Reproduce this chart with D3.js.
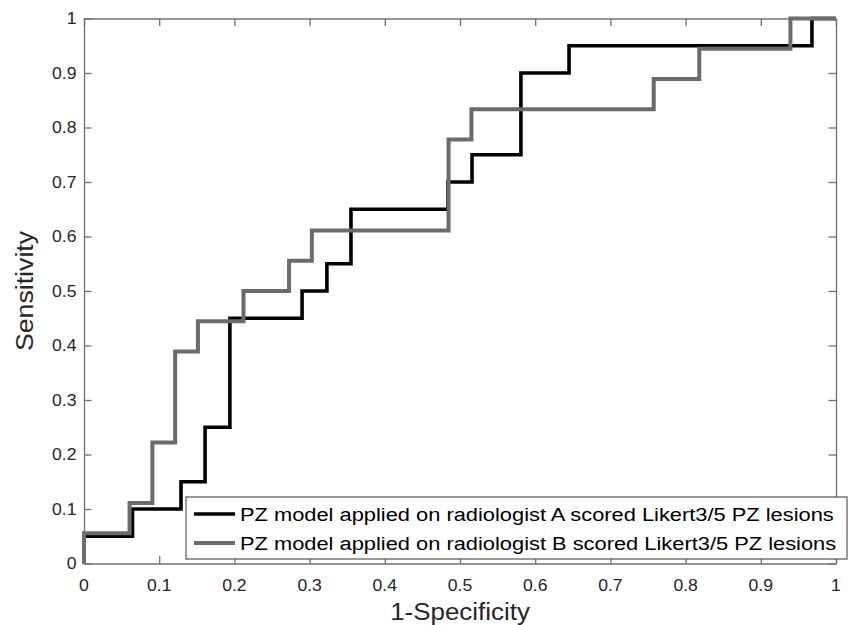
<!DOCTYPE html>
<html>
<head>
<meta charset="utf-8">
<script src="https://cdn.jsdelivr.net/npm/d3@7"></script>
<style>
	body { margin: 0; background: #fff; }
	text { font-family: 'Liberation Sans', Arial, Helvetica, sans-serif; fill: #262626; }
</style>
</head>
<body>
<div id="chart"></div>
<script>
// ROC points (1-specificity, sensitivity)
var fprA = [0, 0, 0.0645, 0.129, 0.161, 0.194, 0.290, 0.323, 0.355, 0.484, 0.516, 0.581, 0.645, 0.968, 1]
var tprA = [0, 0.05, 0.10, 0.15, 0.25, 0.45, 0.50, 0.55, 0.65, 0.70, 0.75, 0.90, 0.95, 1.0, 1.0]
var fprB = [0, 0, 0.0606, 0.0909, 0.1212, 0.1515, 0.2121, 0.2727, 0.3030, 0.4848, 0.5152, 0.7576, 0.8182, 0.9394, 1]
var tprB = [0, 0.0556, 0.1111, 0.2222, 0.3889, 0.4444, 0.5, 0.5556, 0.6111, 0.7778, 0.8333, 0.8889, 0.9444, 1.0, 1.0]
var seriesNames = ['PZ model applied on radiologist A scored Likert3/5 PZ lesions',
	'PZ model applied on radiologist B scored Likert3/5 PZ lesions']
var seriesColors = ['#000000', '#6b6b6b']
var tickValues = [0, 0.1, 0.2, 0.3, 0.4, 0.5, 0.6, 0.7, 0.8, 0.9, 1]
var tickLabels = ['0', '0.1', '0.2', '0.3', '0.4', '0.5', '0.6', '0.7', '0.8', '0.9', '1']

var W = 850, H = 625
var plotL = 84, plotR = 836, plotT = 18.5, plotB = 563.5
var axisColor = '#707070'

var svg = d3.select('#chart').append('svg').attr('width', W).attr('height', H)

var x = d3.scaleLinear().domain([0, 1]).range([plotL, plotR])
var y = d3.scaleLinear().domain([0, 1]).range([plotB, plotT])

// stretched text helper, the figure's font runs a bit wider than Arial
function label(parent, tx, ty, str, size, sx, anchor, rot) {
	var g = parent.append('g').attr('transform', 'translate(' + tx + ',' + ty + ')' + (rot ? ' rotate(' + rot + ')' : ''))
	return g.append('text')
		.attr('transform', 'scale(' + sx + ',1)')
		.attr('text-anchor', anchor)
		.style('font-size', size + 'px')
		.text(str)
}

// series
var line = d3.line().x(function(d) { return x(d[0]) }).y(function(d) { return y(d[1]) }).curve(d3.curveStepAfter)
var series = [d3.zip(fprA, tprA), d3.zip(fprB, tprB)]
series.forEach(function(pts, i) {
	svg.append('path')
		.attr('d', line(pts))
		.attr('fill', 'none')
		.attr('stroke', seriesColors[i])
		.attr('stroke-width', i == 0 ? 3.6 : 4)
		.attr('stroke-linejoin', 'miter')
})

// axes, boxed, ticks pointing inward on all four sides
var axes = [
	{ ax: d3.axisBottom(x), tr: 'translate(0,' + plotB + ')' },
	{ ax: d3.axisTop(x), tr: 'translate(0,' + plotT + ')' },
	{ ax: d3.axisLeft(y), tr: 'translate(' + plotL + ',0)' },
	{ ax: d3.axisRight(y), tr: 'translate(' + plotR + ',0)' }
]
axes.forEach(function(a) {
	var g = svg.append('g').attr('transform', a.tr)
		.call(a.ax.tickValues(tickValues).tickSizeInner(-7.5).tickSizeOuter(0).tickFormat(''))
	g.select('.domain').attr('stroke', axisColor).attr('stroke-width', 1.3)
	g.selectAll('.tick line').attr('stroke', axisColor).attr('stroke-width', 1.3)
})

tickValues.forEach(function(v, i) {
	label(svg, x(v), 590.5, tickLabels[i], 16, 1.1, 'middle')
	label(svg, 76.5, y(v) + 5.7, tickLabels[i], 16, 1.1, 'end')
})

// axis titles
label(svg, (plotL + plotR) / 2, 620, '1-Specificity', 24, 1.08, 'middle')
label(svg, 33, (plotT + plotB) / 2, 'Sensitivity', 24.5, 1.09, 'middle', -90)

// legend
var lg = svg.append('g')
lg.append('rect')
	.attr('x', 186).attr('y', 497).attr('width', 661).attr('height', 62)
	.attr('fill', '#fff').attr('stroke', '#555').attr('stroke-width', 1.2)
seriesNames.forEach(function(name, i) {
	var cy = 514 + i * 29
	lg.append('line')
		.attr('x1', 194).attr('x2', 235).attr('y1', cy).attr('y2', cy)
		.attr('stroke', seriesColors[i]).attr('stroke-width', i == 0 ? 3.6 : 4)
	label(lg, 240, cy + 6.8, name, 19, 1.15, 'start').style('fill', '#000')
})
</script>
</body>
</html>
